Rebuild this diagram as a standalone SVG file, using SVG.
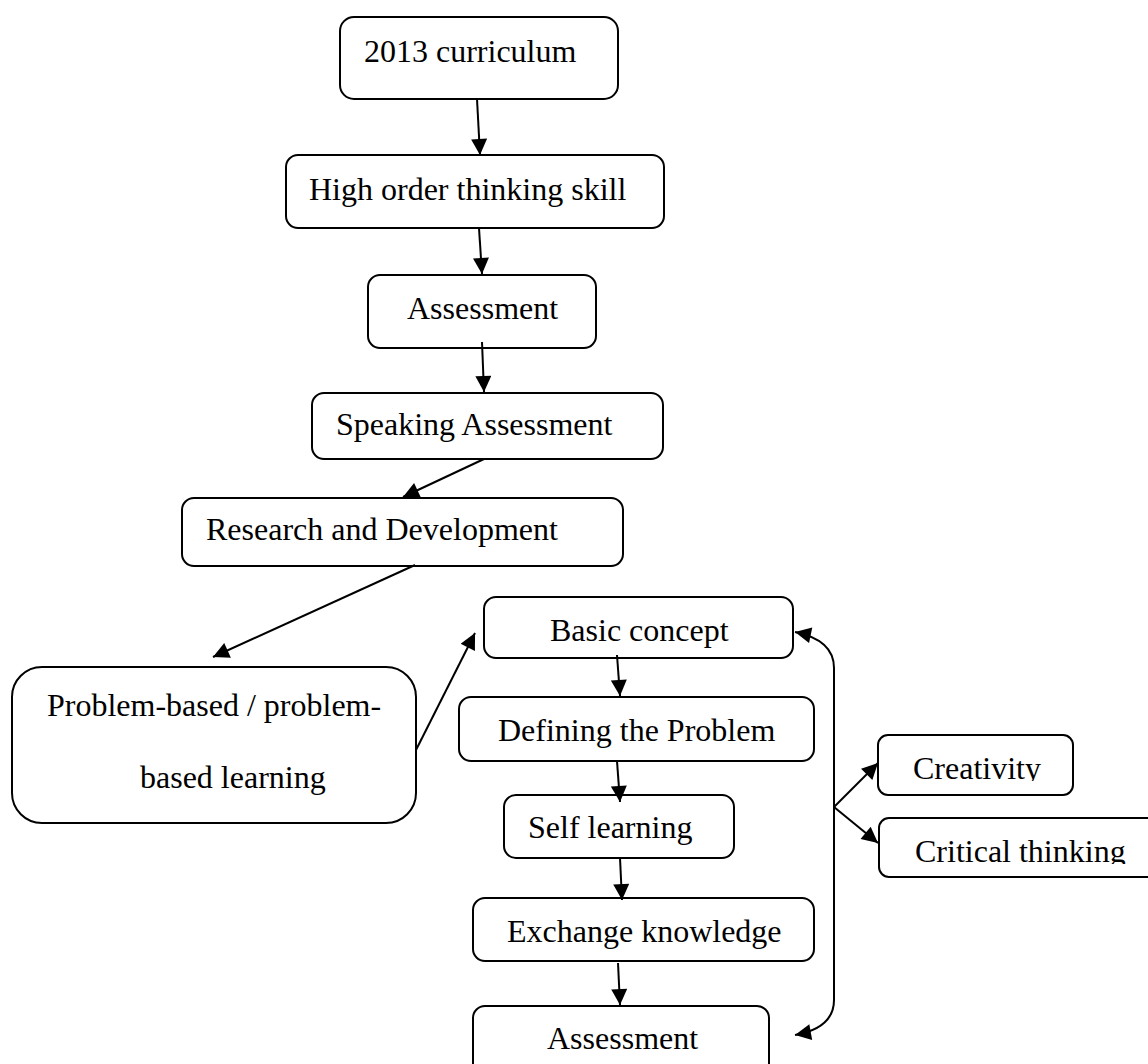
<svg xmlns="http://www.w3.org/2000/svg" width="1148" height="1064" viewBox="0 0 1148 1064">
<style>
.box{fill:#fff;stroke:#000;stroke-width:2}
.t{font-family:"Liberation Serif","Times New Roman",serif;font-size:32px;fill:#000}
.c{fill:none;stroke:#000;stroke-width:2}
</style>
<defs>
<marker id="ah" viewBox="0 0 10 10" refX="10" refY="5" markerWidth="19" markerHeight="16" markerUnits="userSpaceOnUse" orient="auto-start-reverse">
<path d="M0,0 L10,5 L0,10 z" fill="#000"/>
</marker>
<clipPath id="clipCre"><rect x="878" y="735" width="195" height="46"/></clipPath>
<clipPath id="clipCri"><rect x="879" y="818" width="269" height="46"/></clipPath>
</defs>
<rect width="1148" height="1064" fill="#fff"/>
<g id="n1"><rect class="box" x="340" y="17" width="278" height="82" rx="14"/><text class="t" x="364" y="62">2013 curriculum</text></g>
<g id="n2"><rect class="box" x="286" y="155" width="378" height="73" rx="12"/><text class="t" x="309" y="200">High order thinking skill</text></g>
<g id="n3"><rect class="box" x="368" y="275" width="228" height="73" rx="12"/><text class="t" x="407" y="319">Assessment</text></g>
<g id="n4"><rect class="box" x="312" y="393" width="351" height="66" rx="12"/><text class="t" x="336" y="435">Speaking Assessment</text></g>
<g id="n5"><rect class="box" x="182" y="498" width="441" height="68" rx="12"/><text class="t" x="206" y="540">Research and Development</text></g>
<g id="n6"><rect class="box" x="12" y="667" width="404" height="156" rx="30"/><text class="t" x="47" y="716">Problem-based / problem-</text><text class="t" x="140" y="788">based learning</text></g>
<g id="n7"><rect class="box" x="484" y="597" width="309" height="61" rx="12"/><text class="t" x="550" y="641">Basic concept</text></g>
<g id="n8"><rect class="box" x="459" y="697" width="355" height="64" rx="12"/><text class="t" x="498" y="741">Defining the Problem</text></g>
<g id="n9"><rect class="box" x="504" y="795" width="230" height="63" rx="12"/><text class="t" x="528" y="838">Self learning</text></g>
<g id="n10"><rect class="box" x="473" y="898" width="341" height="63" rx="12"/><text class="t" x="507" y="942">Exchange knowledge</text></g>
<g id="n11"><rect class="box" x="473" y="1006" width="296" height="80" rx="12"/><text class="t" x="547" y="1049">Assessment</text></g>
<g id="n12"><rect class="box" x="878" y="735" width="195" height="60" rx="10"/><text class="t" x="913" y="779" clip-path="url(#clipCre)">Creativity</text></g>
<g id="n13"><rect class="box" x="879" y="818" width="290" height="59" rx="10"/><text class="t" x="915" y="862" clip-path="url(#clipCri)">Critical thinking</text></g>
<g id="connectors">
<line class="c" x1="477" y1="99" x2="480" y2="155" marker-end="url(#ah)"/>
<line class="c" x1="479" y1="228" x2="482" y2="274" marker-end="url(#ah)"/>
<line class="c" x1="482" y1="342" x2="484" y2="392" marker-end="url(#ah)"/>
<line class="c" x1="484" y1="459" x2="403" y2="497" marker-end="url(#ah)"/>
<line class="c" x1="415" y1="565" x2="213" y2="657" marker-end="url(#ah)"/>
<line class="c" x1="416" y1="750" x2="475" y2="633" marker-end="url(#ah)"/>
<line class="c" x1="617" y1="655" x2="620" y2="696" marker-end="url(#ah)"/>
<line class="c" x1="617" y1="761" x2="620" y2="802" marker-end="url(#ah)"/>
<line class="c" x1="620" y1="858" x2="622" y2="900" marker-end="url(#ah)"/>
<line class="c" x1="618" y1="963" x2="620" y2="1005" marker-end="url(#ah)"/>
<path class="c" d="M795,632 Q834,640 834,668 L834,1000 Q834,1028 795,1035" marker-start="url(#ah)" marker-end="url(#ah)"/>
<line class="c" x1="834" y1="807" x2="878" y2="763" marker-end="url(#ah)"/>
<line class="c" x1="834" y1="807" x2="878" y2="843" marker-end="url(#ah)"/>
</g>
</svg>
